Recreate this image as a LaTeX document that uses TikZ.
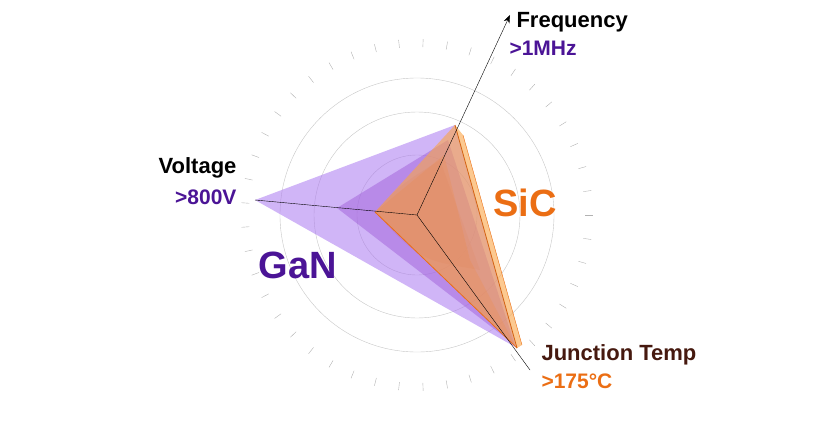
\documentclass[tikz,border=0pt]{standalone}
\usepackage{fontspec}
\setmainfont{Liberation Sans}
\usetikzlibrary{arrows.meta,calc}
\definecolor{ganviolet}{RGB}{75,20,150}
\definecolor{ganfill}{RGB}{170,120,240}
\definecolor{sicorange}{RGB}{235,110,20}
\definecolor{sicfill}{RGB}{250,165,70}
\definecolor{junctbrown}{RGB}{70,25,15}
\begin{document}
\begin{tikzpicture}[
    x=1pt, y=-1pt,
    ring/.style={draw=gray!45, thin},
    axis/.style={black, thin},
    label/.style={font=\bfseries\fontsize{22}{22}\selectfont, anchor=west},
    value/.style={font=\bfseries\fontsize{21}{21}\selectfont, anchor=west},
    big/.style={font=\bfseries\fontsize{38}{38}\selectfont}
]
    \useasboundingbox (0,0) rectangle (815,440);

    % Rings and ticks
    \coordinate (c) at (417,215);
    \foreach \r in {60,103,137}
        \draw[ring] (c) circle (\r);
    \foreach \a in {0,8,...,352}
        \draw[gray!60] ($(c)+(\a:168)$) -- ($(c)+(\a:176)$);

    % GaN layers
    \coordinate (volt) at (255,200);
    \coordinate (freq) at (455,125);
    \coordinate (junc) at (517,348);
    \fill[ganfill, opacity=0.55] (volt) -- (freq) -- (junc) -- cycle;
    \fill[ganfill!80!violet, opacity=0.5] (337,208) -- (448,140) -- (515,345) -- cycle;
    \fill[violet!55, opacity=0.4] (375,212) .. controls (400,185) .. (440,160) -- (480,270) .. controls (420,260) .. cycle;

    % SiC layers
    \fill[sicfill, opacity=0.6] (freq) -- (463,135) -- (522,345) -- (junc) -- (375,212) -- cycle;
    \fill[sicorange!80, opacity=0.25] (444,155) -- (470,260) -- (515,345) -- (375,212) -- cycle;
    \draw[sicorange, thick] (375,212) -- (junc);
    \draw[sicorange!90!black, thick] (freq) -- (junc);
    \draw[sicorange] (463,135) -- (522,345);

    % Axes
    \coordinate (ftip) at (510,15);
    \coordinate (jend) at (530,370);
    \draw[axis, -{Stealth[length=8pt]}] (c) -- (ftip);
    \draw[axis] (c) -- (volt);
    \draw[axis] (c) -- (jend);

    % Labels
    \node[label] (flab) at (513,22) {Frequency};
    \node[value, ganviolet] (fval) at (506,48) {>1MHz};
    \node[label, anchor=east] (vlab) at (240,168) {Voltage};
    \node[value, ganviolet, anchor=east] (vval) at (240,197) {>800V};
    \node[big, ganviolet] (gan) at (298,265) {GaN};
    \node[big, sicorange] (sic) at (525,203) {SiC};
    \node[label, junctbrown] (jlab) at (538,355) {Junction Temp};
    \node[value, sicorange] (jval) at (538,381) {>175°C};
\end{tikzpicture}
\end{document}
